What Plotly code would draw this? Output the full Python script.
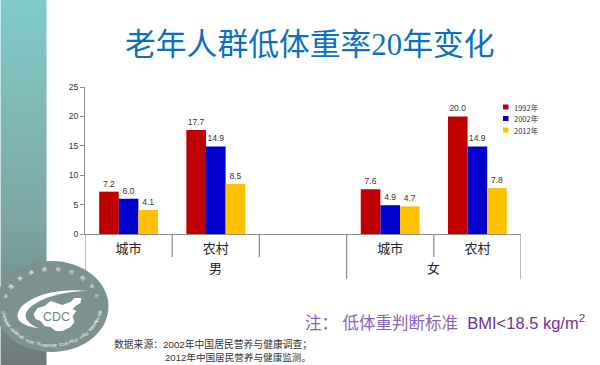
import math
import plotly.graph_objects as go

W, H = 600, 365
L, R, T, B = 84.5, 521.0, 87.0, 234.0

positions = [0, 1, 3, 4]
categories = ["城市", "农村", "城市", "农村"]
years = ["1992年", "2002年", "2012年"]
values_1992 = [7.2, 17.7, 7.6, 20.0]
values_2002 = [6.0, 14.9, 4.9, 14.9]
values_2012 = [4.1, 8.5, 4.7, 7.8]
colors = ["#C00000", "#0000CC", "#FFC000"]
y_ticks = [0, 5, 10, 15, 20, 25]
title = "老年人群低体重率20年变化"
note = "<span style='color:#8A62BE'>注： 低体重判断标准</span>  BMI&lt;18.5 kg/m<sup>2</sup>"
source1 = "数据来源：2002年中国居民营养与健康调查；"
source2 = "2012年中国居民营养与健康监测。"
ring_bottom = "CHINESE CENTER FOR DISEASE CONTROL AND PREVENTION"
ring_top = "中国疾病预防控制中心"

def px(x):
    return (x - L) / (R - L)
def py(y):
    return (B - y) / (B - T)

fig = go.Figure()
for name, vals, c in zip(years, [values_1992, values_2002, values_2012], colors):
    fig.add_bar(x=positions, y=vals, name=name, marker=dict(color=c, line_width=0),
                text=vals, texttemplate="%{y:.1f}", textposition="outside", cliponaxis=False,
                textfont=dict(size=8.5, color="#333333", family="Liberation Sans"))

shapes = []
def mix(a, b, t):
    return "rgb(%d,%d,%d)" % tuple(round(a[i] + (b[i] - a[i]) * t) for i in range(3))
top, mid, bot = (128, 204, 200), (126, 165, 165), (110, 122, 122)
step = 5
for y in range(0, H, step):
    t = y / H
    c = mix(top, mid, t / .6) if t < .6 else mix(mid, bot, (t - .6) / .4)
    shapes.append(dict(type="rect", xref="paper", yref="paper", x0=px(0), x1=px(46), y0=py(y), y1=py(y + step),
                       fillcolor=c, line_width=0, layer="above"))
grey = "#8C8C8C"
for cat_x, end in [(-.5, 270), (.5, 257), (1.5, 257), (2.5, 279), (3.5, 257), (4.5, 279)]:
    shapes.append(dict(type="line", xref="x", yref="paper", x0=cat_x, x1=cat_x, y0=0, y1=py(end),
                       line=dict(color=grey, width=1.2), layer="above"))
for yy, c in zip([107, 118.5, 130], colors):
    shapes.append(dict(type="rect", xref="paper", yref="paper", x0=px(503), x1=px(508.5), y0=py(yy - 2.5), y1=py(yy + 2.5),
                       fillcolor=c, line_width=0, layer="above"))
logo = "#7C9290"
shapes.append(dict(type="circle", xref="paper", yref="paper", x0=px(-6), x1=px(108), y0=py(352), y1=py(261),
                   fillcolor=logo, line_width=0, layer="above"))
def P(x, y):
    return f"{px(x):.5f},{py(y):.5f}"
swoosh = (f"M {P(17,315)} C {P(19,300)} {P(50,287)} {P(88,291)} C {P(58,291)} {P(30,301)} {P(25,314)} "
          f"C {P(24,320)} {P(30,325)} {P(38,328)} C {P(26,327)} {P(16,322)} {P(17,315)} Z")
china = " L ".join(P(x, y) for x, y in [(33,314),(37,308),(44,306),(50,301),(56,303),(62,305),(70,302),(74,298),(81,298),(80,303),(75,306),(72,309),(76,311),
        (72,316),(74,322),(70,327),(62,331),(55,331),(50,327),(44,326),(40,321),(35,319)])
shapes.append(dict(type="path", xref="paper", yref="paper", path=swoosh, fillcolor="#FFFFFF", line_width=0, layer="above"))
shapes.append(dict(type="path", xref="paper", yref="paper", path="M " + china + " Z", fillcolor="#FFFFFF", line_width=0, layer="above"))

ann = []
def text(x, y, s, size, color="#222222", anchor="center", family="Noto Sans CJK SC, Liberation Sans", angle=0):
    ann.append(dict(xref="paper", yref="paper", x=px(x), y=py(y), text=s, showarrow=False, xanchor=anchor, yanchor="middle",
                    font=dict(size=size, color=color, family=family), textangle=angle))

text(310, 45, title, 30.8, "#0A70C0", family="Liberation Serif, Noto Sans CJK SC")
text(215, 267.5, "男", 13)
text(433, 267.5, "女", 13)
for yy, name in zip([107, 118.5, 130], years):
    text(511.5, yy, name, 7.5, "#333333", "left")
text(303, 322, note, 16.5, "#7030A0", "left", family="Liberation Sans, Noto Sans CJK SC")
text(112, 344, source1, 9.8, "#333333", "left", family="Liberation Sans, Noto Sans CJK SC")
text(163, 357, source2, 9.6, "#333333", "left", family="Liberation Sans, Noto Sans CJK SC")
text(56, 317, "CDC", 12.5, "#6E8482", family="Liberation Sans")

cx, cy, rx, ry = 51, 306, 49, 39.5
n = len(ring_bottom)
for i, ch in enumerate(ring_bottom):
    if ch == " ":
        continue
    a = math.radians(170 - 162 * i / (n - 1))
    text(cx + rx * math.cos(a), cy + ry * math.sin(a), ch, 4.3, "#FFFFFF", family="Liberation Sans",
         angle=-math.degrees(a) + 90)
n = len(ring_top)
for i, ch in enumerate(ring_top):
    a = math.radians(-165 + 150 * i / (n - 1))
    text(cx + rx * .96 * math.cos(a), cy + ry * .93 * math.sin(a), ch, 4.5, "#FFFFFF", angle=math.degrees(a) + 90)

fig.update_layout(
    width=W, height=H, margin=dict(l=L, r=W - R, t=T, b=H - B, autoexpand=False),
    paper_bgcolor="white", plot_bgcolor="white", showlegend=False,
    barmode="group", bargap=0.325, bargroupgap=0,
    shapes=shapes, annotations=ann,
    font=dict(family="Noto Sans CJK SC, Liberation Sans"),
    xaxis=dict(range=[-.5, 4.5], tickmode="array", tickvals=positions, ticktext=categories, ticks="",
               showgrid=False, zeroline=False, showline=True, linecolor=grey, linewidth=1.2, ticklabelstandoff=2,
               tickfont=dict(size=13, color="#222222")),
    yaxis=dict(range=[0, 25], tickvals=y_ticks, ticks="outside", ticklen=4, tickcolor=grey, showgrid=False, zeroline=False,
               showline=True, linecolor=grey, linewidth=1.2, tickfont=dict(size=8.5, color="#333333", family="Liberation Sans")),
)
fig.write_html("out.html", config=dict(displayModeBar=False),
               post_script="document.body.style.margin='0';document.body.style.overflow='hidden';")
